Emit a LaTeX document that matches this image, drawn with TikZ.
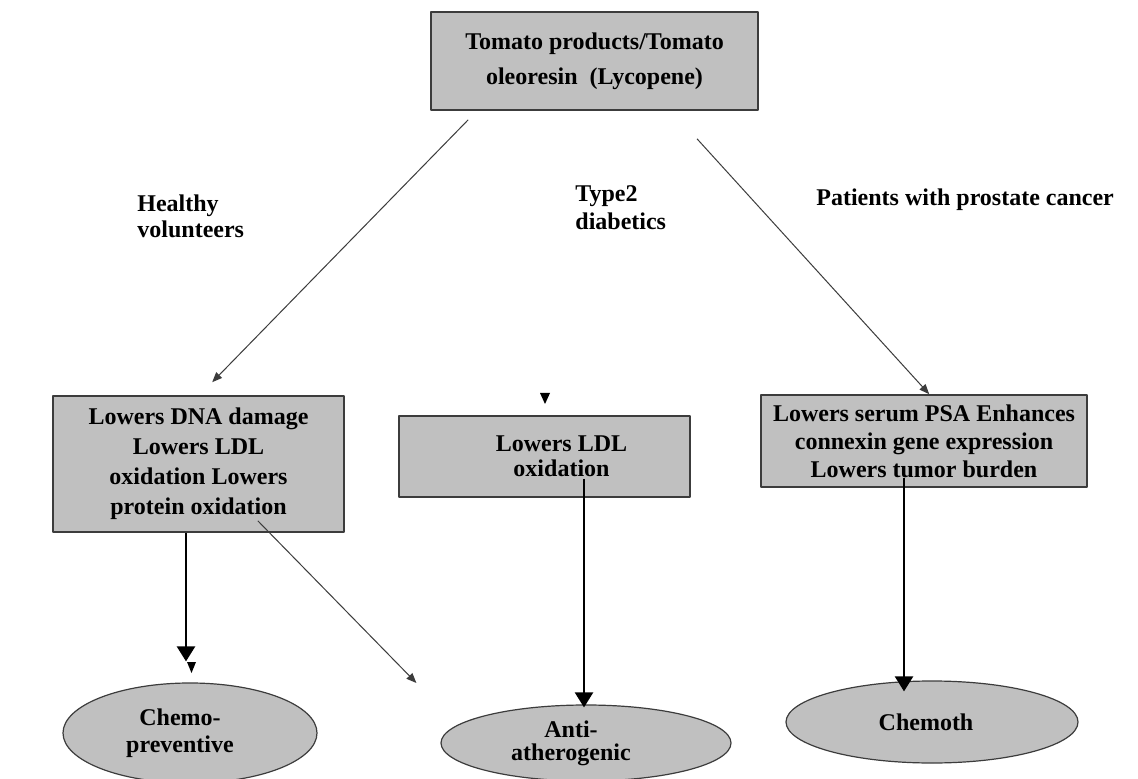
\documentclass[tikz,border=0pt]{standalone}
\usepackage{fontspec}
\setmainfont{Liberation Serif}
\usetikzlibrary{calc,arrows.meta,shapes.geometric}
\definecolor{boxgray}{RGB}{192,192,192}
\definecolor{edgegray}{RGB}{60,60,60}
\tikzset{
	box/.style={draw=edgegray,line width=0.8pt,fill=boxgray,inner sep=0pt,align=center,font=\bfseries\fontsize{12}{15}\selectfont},
	oval/.style={ellipse,draw=edgegray,line width=0.6pt,fill=boxgray,inner sep=0pt,align=center,font=\bfseries\fontsize{12}{13.5}\selectfont},
	grouplabel/.style={anchor=west,inner sep=0pt,align=left,font=\bfseries\fontsize{12}{13}\selectfont},
	thinarrow/.style={draw=edgegray,line width=0.5pt,-{Triangle[length=5pt,width=4pt]}},
	thickarrow/.style={line width=1.2pt,-{Triangle[length=7.5pt,width=9pt]}},
}
\begin{document}
\begin{tikzpicture}[x=0.5pt,y=-0.5pt,line join=round]
			\fill[white] (0,0) rectangle (1138,779);
			\useasboundingbox (0,0) rectangle (1138,779);
			% boxes
			\node[box,minimum width=163.5pt,minimum height=49pt,font=\bfseries\fontsize{12}{17.5}\selectfont] (top) at (594.5,61) {Tomato products/Tomato\\ oleoresin\ \ (Lycopene)};
			\node[box,minimum width=145.5pt,minimum height=68pt] (lbox) at (198.5,464) {Lowers DNA damage\\ Lowers LDL\\ oxidation Lowers\\ protein oxidation};
			\node[box,minimum width=145.5pt,minimum height=40.5pt,font=\bfseries\fontsize{12}{12.5}\selectfont] (mbox) at (544.5,456.5) {\hspace*{17pt}Lowers LDL\\ \hspace*{17pt}oxidation};
			\node[box,minimum width=163pt,minimum height=46pt,font=\bfseries\fontsize{12}{14}\selectfont] (rbox) at (924,441) {Lowers serum PSA Enhances\\ connexin gene expression\\ Lowers tumor burden};
			% ovals
			\node[oval,minimum width=127pt,minimum height=50pt] (lellipse) at (190,733) {\hspace*{-10pt}Chemo-\\ \hspace*{-10pt}preventive};
			\node[oval,minimum width=145pt,minimum height=38pt,font=\bfseries\fontsize{12}{11.5}\selectfont] (mellipse) at (586,743) {\hspace*{-15pt}Anti-\\ \hspace*{-15pt}atherogenic};
			\node[oval,minimum width=146pt,minimum height=41pt] (rellipse) at (932,722) {\hspace*{-6pt}Chemoth};
			% group labels
			\node[grouplabel] (healthy) at (137,216) {Healthy\\ volunteers};
			\node[grouplabel,font=\bfseries\fontsize{12}{14}\selectfont] (diabetic) at (575,208) {Type2\\ diabetics};
			\node[grouplabel] (prostate) at (816,200) {Patients\ with prostate cancer};
			% arrows
			\draw[thinarrow] ($(top.south west)+(38,9)$) -- ($(lbox.north west)+(160,-13)$);
			\draw[thinarrow] ($(top.south)+(102.5,28)$) -- ($(rbox.north west)+(169,0)$);
			\coordinate (athero) at ($(mellipse.west)+(-24,-60)$);
			\draw[thinarrow] ($(lbox.south east)+(-87,-12)$) -- (athero);
			\draw[thickarrow] ($(lbox.south)+(-12.5,0)$) -- ($(lellipse.north)+(-4,-21)$);
			\fill (187,662)--(196,662)--(191.5,673)--cycle;
			\fill (540,393)--(550,393)--(545,404)--cycle;
			\draw[thickarrow] ($(mbox.south)+(39.5,-19)$) -- ($(mellipse.north)+(-2,3)$);
			\draw[thickarrow] ($(rbox.south)+(-20,-10)$) -- ($(rellipse.north)+(-28,11)$);
		\end{tikzpicture}
\end{document}
